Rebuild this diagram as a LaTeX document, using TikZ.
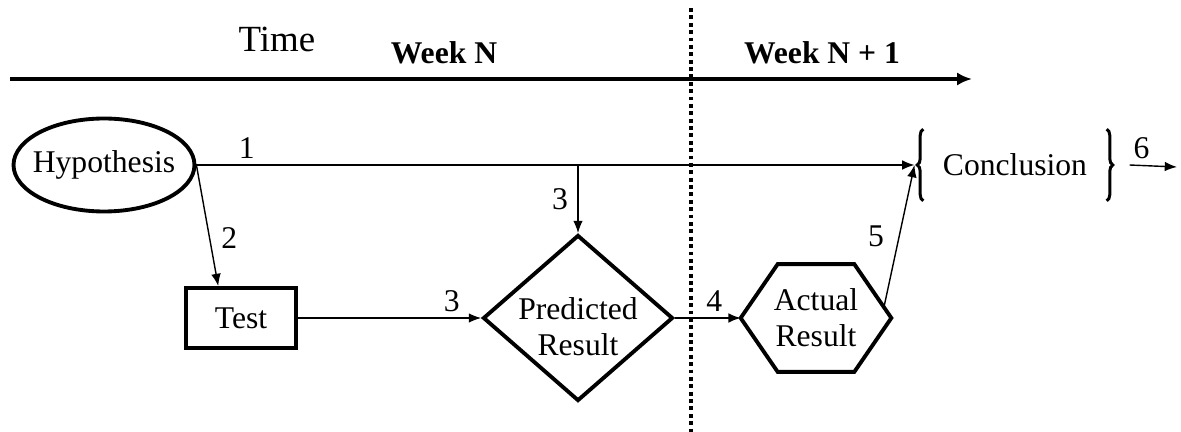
\documentclass[tikz,border=0pt]{standalone}
\usepackage{fontspec}
\setmainfont{Liberation Serif}
\usetikzlibrary{arrows.meta,calc,shapes.geometric,decorations.pathreplacing}

\begin{document}
\begin{tikzpicture}[x=0.02cm, y=-0.02cm, >={Latex[length=7pt,width=5.5pt]},
  every node/.style={font=\fontsize{18}{20.5}\selectfont},
  box/.style={draw, line width=2.2pt},
  flow/.style={->, line width=0.8pt},
  week/.style={font=\fontsize{18}{20}\selectfont\bfseries},
  curly/.style={decorate, decoration={brace, amplitude=3.5pt}, line width=1.7pt}]
\useasboundingbox (0,0) rectangle (1181,432);

  % time axis
  \coordinate (tstart) at (10,79);
  \coordinate (tend) at (972,79);
  \draw[line width=2.2pt, -{Latex[length=8.5pt,width=7.5pt]}] (tstart) -- (tend);
  \node[font=\fontsize{21}{24}\selectfont] (time) at (277,39) {Time};
  \node[week] (weekn) at (444,53) {Week N};
  \node[week] (weeknext) at (822,53) {Week N + 1};

  % boundary between the two weeks
  \coordinate (wtop) at (691,8);
  \coordinate (wbot) at (691,432);
  \draw[line width=2.2pt, dash pattern=on 2.2pt off 2pt] (wtop) -- (wbot);

  % steps
  \node[box, ellipse, minimum width=3.62cm, minimum height=1.86cm,
        inner xsep=-5pt, inner ysep=8pt] (hyp) at (104,165) {Hypothesis};
  \node[box, minimum width=2.2cm, minimum height=1.2cm] (test) at (241,318) {Test};
  \node[box, diamond, aspect=1.14, minimum width=3.8cm, minimum height=3.32cm,
        inner sep=0pt] (pred) at (578,318) {};
  \node[align=center, inner sep=0pt] (predtext) at ([yshift=-0.18cm]pred.center)
    {Predicted\\Result};
  \node[minimum width=3cm, minimum height=2.14cm, inner sep=0pt,
        align=center] (act) at (816,318) {Actual\\Result};
  \draw[box] (act.west) -- ([xshift=0.74cm]act.north west)
    -- ([xshift=-0.74cm]act.north east) coordinate (act-ne)
    -- (act.east) -- ([xshift=-0.74cm]act.south east)
    -- ([xshift=0.74cm]act.south west) -- cycle;
  \node[inner xsep=11pt, minimum height=1.42cm] (concl) at (1015,165) {Conclusion};
  \draw[curly] (concl.south west) -- (concl.north west);
  \draw[curly] (concl.north east) -- (concl.south east);
  \coordinate (cin) at ([xshift=-5pt]concl.west);
  \coordinate (out) at (1177,167);

  % numbered links
  \draw[flow] (hyp.east) -- (hyp.east -| cin) node[pos=0.07, above] (n1) {1};
  \draw[flow] (hyp.east) -- ($(test.north west)!0.3!(test.north east)$)
    node[pos=0.6, right=3pt] (n2) {2};
  \draw[flow] (hyp.east -| pred.north) -- (pred.north) node[midway, left=2pt] (n3a) {3};
  \draw[flow] (test.east) -- (pred.west) node[pos=0.84, above] (n3b) {3};
  \draw[flow] (pred.east) -- (act.west) node[pos=0.6, above] (n4) {4};
  \draw[flow] ($(act-ne)!0.8!(act.east)$) -- (cin) node[midway, left=5pt] (n5) {5};
  \draw[flow] ([xshift=13pt]concl.east) -- (out) node[pos=0.25, above] (n6) {6};
\end{tikzpicture}
\end{document}
